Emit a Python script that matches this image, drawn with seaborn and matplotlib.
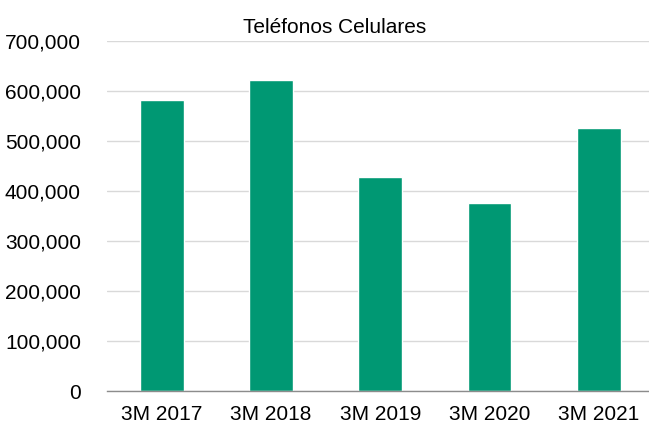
import matplotlib
matplotlib.use("Agg")
import matplotlib.pyplot as plt
import seaborn as sns
import pandas as pd
import numpy as np
from matplotlib.ticker import FuncFormatter, FixedLocator

# data
periods = ["3M 2017", "3M 2018", "3M 2019", "3M 2020", "3M 2021"]
units = [582000, 621500, 428000, 377000, 526000]

df = pd.DataFrame({"periodo": periods, "unidades": units})

sns.set_theme(style="white")
plt.rcParams['font.family'] = ['Liberation Sans', 'DejaVu Sans']

fig = plt.figure(figsize=(6.49, 4.24), dpi=100)
# the plot area runs slightly past the right edge, as in the original
ax = fig.add_axes([0.1653, 0.0778, 0.8413, 0.8255])

sns.barplot(data=df, x="periodo", y="unidades", color="#009873", width=0.40,
            saturation=1, ax=ax)

ax.set_ylim(0, 700000)
ax.set_xlim(-0.5, len(periods) - 0.5)
ax.set_yticks(np.arange(0, 700001, 100000))
ax.yaxis.set_major_formatter(FuncFormatter(lambda v, p: f"{int(v):,}"))
ax.grid(axis="y", color="#D9D9D9", linewidth=1)
ax.set_axisbelow(True)

for side in ["top", "right", "left"]:
    ax.spines[side].set_visible(False)
ax.spines["bottom"].set_color("#8C8C8C")
ax.spines["bottom"].set_linewidth(1)

ax.tick_params(axis="x", which="major", length=0, pad=10, labelsize=15, colors="black")
ax.tick_params(axis="y", length=0, pad=19, labelsize=15, colors="black")
ax.xaxis.set_minor_locator(FixedLocator(np.arange(-0.5, len(periods), 1.0)))
ax.tick_params(axis="x", which="minor", length=6, color="#8C8C8C", width=1)

ax.set_xlabel("")
ax.set_ylabel("")

fig.text(0.515, 0.936, "Teléfonos Celulares", ha="center", va="center",
         fontsize=15, color="black")

fig.savefig("out.png", dpi=100)
